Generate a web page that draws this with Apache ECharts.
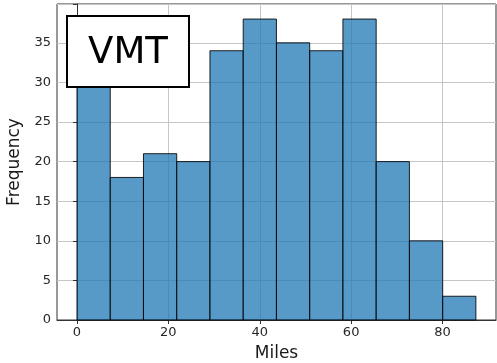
<!DOCTYPE html>
<html>
<head>
<meta charset="utf-8">
<script src="https://cdn.jsdelivr.net/npm/echarts@6/dist/echarts.min.js"></script>
<style>
  html, body { margin: 0; padding: 0; background: #fff; }
  #chart { width: 497px; height: 363px; }
</style>
</head>
<body>
<div id="chart"></div>
<script>
// histogram of miles travelled (VMT)
const binEdges = [0, 7.28, 14.55, 21.83, 29.1, 36.38, 43.65, 50.93, 58.2, 65.48, 72.75, 80.03, 87.3];
const counts = [31, 18, 21, 20, 34, 38, 35, 34, 38, 20, 10, 3];
const xTicks = [0, 20, 40, 60, 80];
const boxLabel = 'VMT';

const bins = counts.map((c, i) => [binEdges[i], binEdges[i + 1], c]);

const chart = echarts.init(document.getElementById('chart'));
const font = 'DejaVu Sans';

const option = {
    animation: false,
    grid: {
        left: 57, right: 1, top: 4, bottom: 43,
        outerBoundsMode: 'none',
        containLabel: false,
        show: true,
        borderColor: '#333',
        borderWidth: 1
    },
    xAxis: {
        type: 'value',
        min: -4.37,
        max: 91.7,
        name: 'Miles',
        nameLocation: 'middle',
        nameGap: 25,
        nameTextStyle: { fontFamily: font, fontSize: 17, color: '#1a1a1a' },
        axisLine: { show: true, onZero: false, lineStyle: { color: '#333', width: 1 } },
        axisTick: { show: true, length: 4, customValues: xTicks, lineStyle: { color: '#333' } },
        axisLabel: { customValues: xTicks, fontFamily: font, fontSize: 13, color: '#262626', margin: 6 },
        splitLine: { show: true, lineStyle: { color: '#c6c6c6', width: 1 } }
    },
    yAxis: {
        type: 'value',
        min: 0,
        max: 39.9,
        interval: 5,
        name: 'Frequency',
        nameLocation: 'middle',
        nameGap: 29,
        nameTextStyle: { fontFamily: font, fontSize: 17, color: '#1a1a1a' },
        axisLine: { show: true, lineStyle: { color: '#333', width: 1 } },
        axisTick: { show: true, length: 4, lineStyle: { color: '#333' } },
        axisLabel: {
            fontFamily: font, fontSize: 13, color: '#262626', margin: 6,
            formatter: v => (v % 5 === 0 && v <= 35 ? String(v) : '')
        },
        splitLine: { show: true, lineStyle: { color: '#c6c6c6', width: 1 } }
    },
    series: [{
        type: 'custom',
        z: 2,
        data: bins,
        renderItem: (params, api) => {
            const p0 = api.coord([api.value(0), api.value(2)]);
            const p1 = api.coord([api.value(1), 0]);
            return {
                type: 'rect',
                shape: { x: p0[0], y: p0[1], width: p1[0] - p0[0], height: p1[1] - p0[1] },
                style: { fill: 'rgba(31,119,180,0.75)', stroke: 'rgba(0,0,0,0.85)', lineWidth: 1 }
            };
        },
        encode: { x: [0, 1], y: 2 }
    }],
    graphic: [{
        type: 'rect',
        z: 100,
        shape: { x: 67, y: 16, width: 122, height: 71 },
        style: { fill: '#fff', stroke: '#000', lineWidth: 2 }
    }, {
        type: 'text',
        z: 101,
        x: 128,
        y: 53,
        style: {
            text: boxLabel, fontFamily: font, fontSize: 37,
            fill: '#000', align: 'center', verticalAlign: 'middle'
        }
    }]
};

chart.setOption(option);
</script>
</body>
</html>
